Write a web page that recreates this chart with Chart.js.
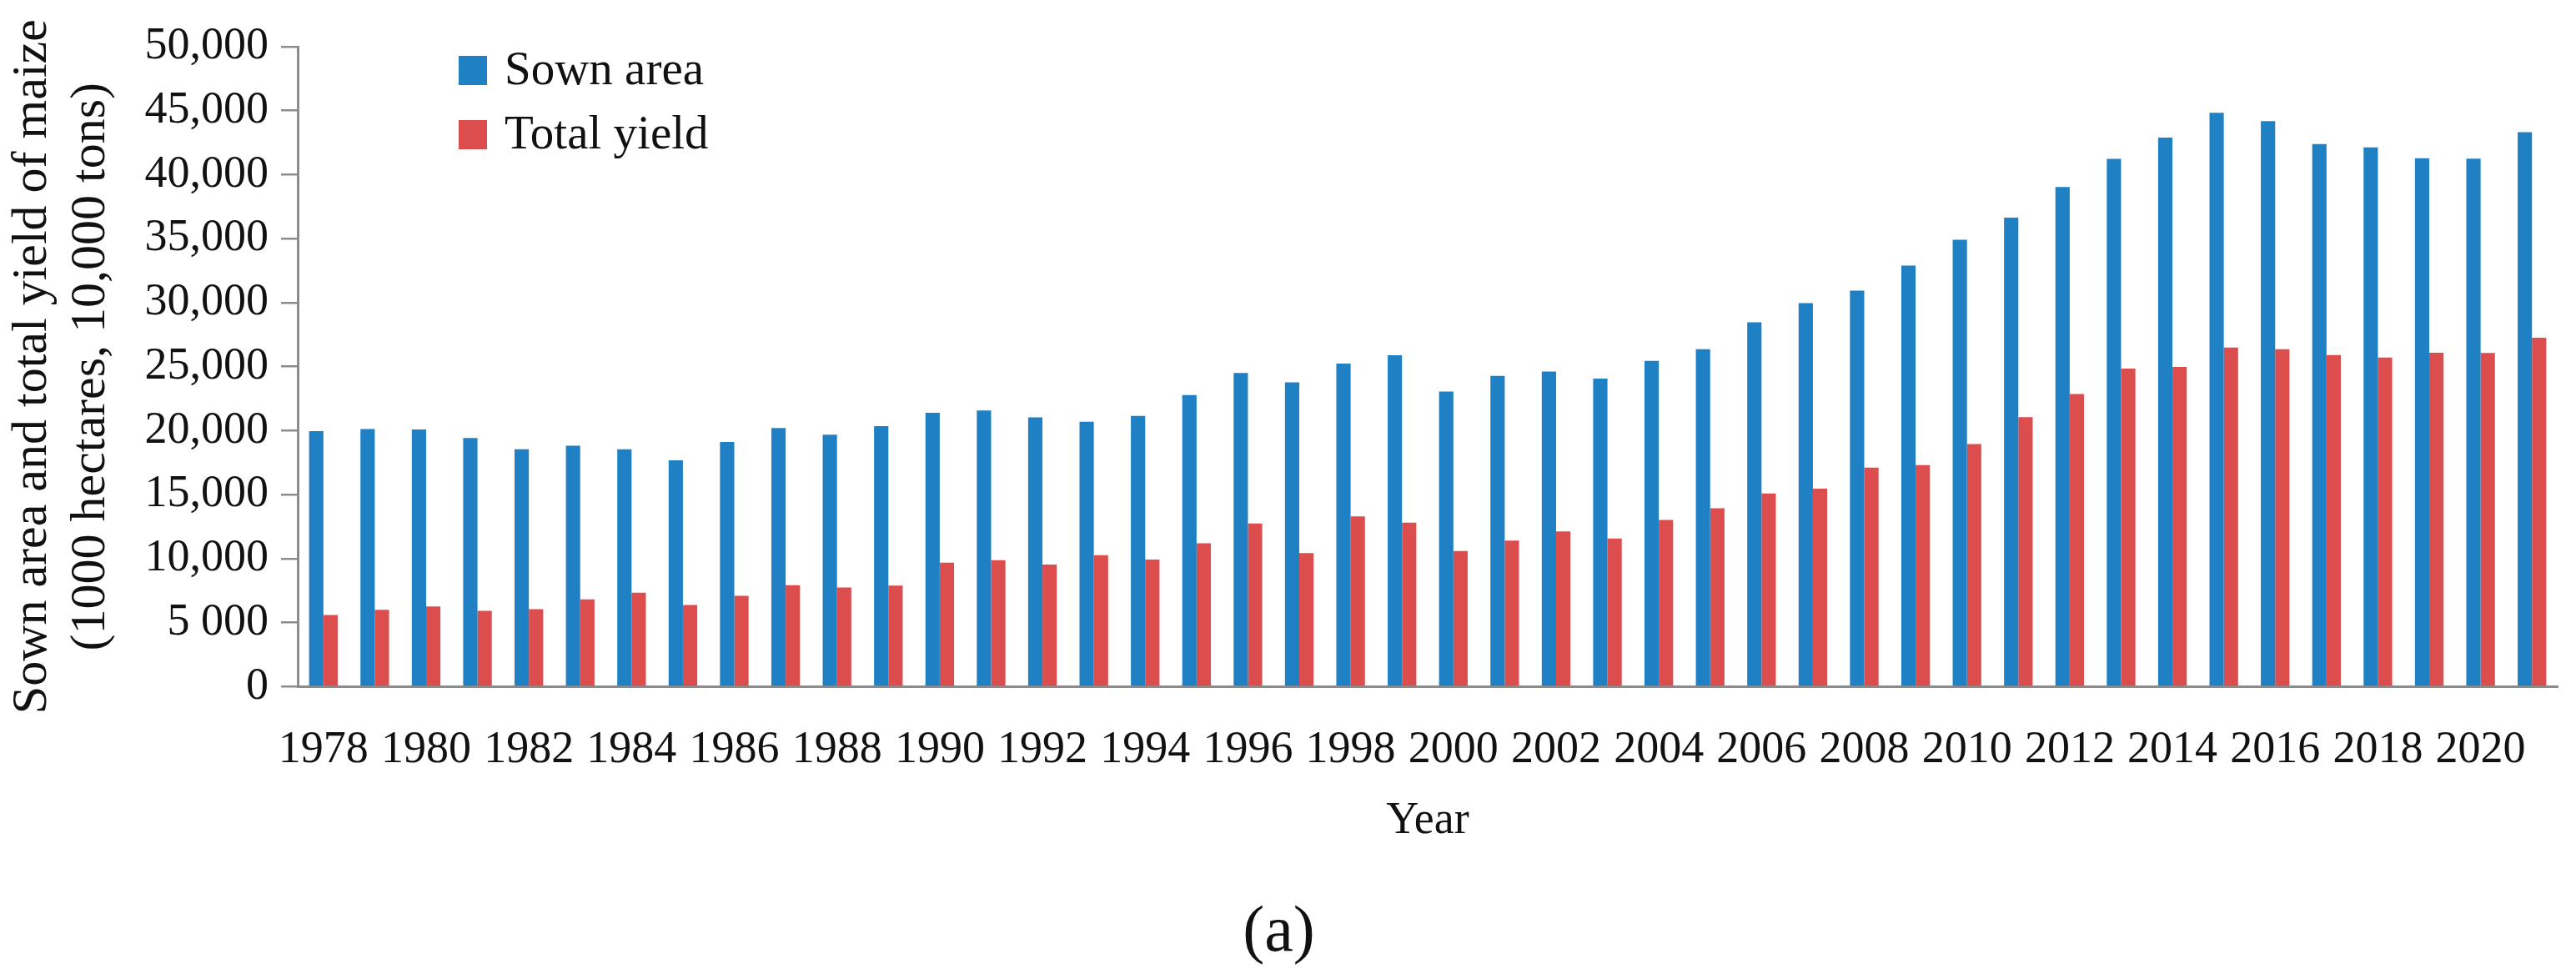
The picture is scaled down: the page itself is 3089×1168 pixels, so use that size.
<!DOCTYPE html>
<html>
<head>
<meta charset="utf-8">
<script src="https://cdn.jsdelivr.net/npm/chart.js@4.4.1/dist/chart.umd.min.js"></script>
<style>
  html, body { margin: 0; padding: 0; background: #fff; }
  #wrap { width: 3089px; height: 1168px; }
</style>
</head>
<body>
<div id="wrap"><canvas id="Chart-maize"></canvas></div>
<script>
// Data
var years = ["1978", "1979", "1980", "1981", "1982", "1983", "1984", "1985", "1986", "1987",
  "1988", "1989", "1990", "1991", "1992", "1993", "1994", "1995", "1996", "1997",
  "1998", "1999", "2000", "2001", "2002", "2003", "2004", "2005", "2006", "2007",
  "2008", "2009", "2010", "2011", "2012", "2013", "2014", "2015", "2016", "2017",
  "2018", "2019", "2020", "2021"];

// 1000 hectares
var sownArea = [19960, 20130, 20090, 19430, 18540, 18820, 18540, 17690, 19120, 20210,
  19690, 20350, 21400, 21570, 21040, 20690, 21150, 22780, 24500, 23780,
  25240, 25900, 23060, 24280, 24630, 24070, 25450, 26360, 28460, 29970,
  30940, 32890, 34910, 36640, 39030, 41240, 42890, 44840, 44180, 42400,
  42130, 41280, 41260, 43320];

// 10,000 tons
var totalYield = [5590, 6000, 6260, 5920, 6060, 6820, 7340, 6380, 7090, 7920,
  7740, 7890, 9680, 9880, 9540, 10270, 9930, 11200, 12750, 10430,
  13300, 12810, 10600, 11410, 12130, 11580, 13030, 13940, 15100, 15470,
  17120, 17310, 18960, 21050, 22860, 24850, 24980, 26500, 26360, 25910,
  25720, 26080, 26070, 27260];

var xTickLabels = ["1978", "1980", "1982", "1984", "1986", "1988", "1990", "1992", "1994", "1996",
  "1998", "2000", "2002", "2004", "2006", "2008", "2010", "2012", "2014", "2016",
  "2018", "2020"];

var yTickLabels = ["0", "5 000", "10,000", "15,000", "20,000", "25,000",
  "30,000", "35,000", "40,000", "45,000", "50,000"];

var serif = '"Liberation Serif", "Times New Roman", serif';
var axisGray = '#8c8c8c';

// legend drawn inside the plot, stacked
var boxLegend = {
  id: 'boxLegend',
  afterDraw: function (chart) {
    var ctx = chart.ctx;
    var area = chart.chartArea;
    var x = area.left + 193;
    var y = area.top + 11;
    ctx.save();
    ctx.font = '57px ' + serif;
    ctx.textBaseline = 'middle';
    ctx.textAlign = 'left';
    chart.data.datasets.forEach(function (ds, i) {
      var top = y + i * 77;
      ctx.fillStyle = ds.backgroundColor;
      ctx.fillRect(x, top, 34, 35);
      ctx.fillStyle = '#111';
      ctx.fillText(ds.label, x + 55, top + 19);
    });
    ctx.restore();
  }
};

var ctx = document.getElementById('Chart-maize').getContext('2d');
var chart = new Chart(ctx, {
  type: 'bar',
  data: {
    labels: years,
    datasets: [{
      label: "Sown area",
      backgroundColor: '#1f80c3',
      data: sownArea,
      categoryPercentage: 0.557,
      barPercentage: 1.0
    }, {
      label: "Total yield",
      backgroundColor: '#dc4d4d',
      data: totalYield,
      categoryPercentage: 0.557,
      barPercentage: 1.0
    }]
  },
  options: {
    responsive: true,
    maintainAspectRatio: false,
    devicePixelRatio: 1,
    animation: false,
    layout: {
      padding: { left: 0, right: 22, top: 56, bottom: 0 }
    },
    plugins: {
      legend: { display: false },
      tooltip: { enabled: false },
      title: {
        display: true,
        position: 'bottom',
        text: '(a)',
        color: '#111',
        font: { family: serif, size: 78, weight: 'normal' },
        padding: { top: 55, bottom: 2 }
      }
    },
    scales: {
      x: {
        grid: { display: false, drawTicks: false },
        border: { display: true, color: axisGray, width: 3 },
        ticks: {
          autoSkip: false,
          maxRotation: 0,
          minRotation: 0,
          padding: 44,
          color: '#111',
          font: { family: serif, size: 54 },
          callback: function (value, index) {
            var y = years[index];
            return xTickLabels.indexOf(y) >= 0 ? y : '';
          }
        },
        title: {
          display: true,
          text: 'Year',
          color: '#111',
          font: { family: serif, size: 54 },
          padding: { top: 25, bottom: 0 }
        },
        afterFit: function (scale) {
          scale.height = 194;
        }
      },
      y: {
        min: 0,
        max: 50000,
        grid: {
          drawOnChartArea: false,
          drawTicks: true,
          tickLength: 20,
          color: axisGray,
          lineWidth: 2.5
        },
        border: { display: true, color: axisGray, width: 3 },
        ticks: {
          stepSize: 5000,
          padding: 15,
          color: '#111',
          font: { family: serif, size: 54 },
          callback: function (value, index) {
            return yTickLabels[index];
          }
        },
        title: {
          display: true,
          text: ["Sown area and total yield of maize", "(1000 hectares, 10,000 tons)"],
          color: '#111',
          font: { family: serif, size: 60, lineHeight: 1.17 },
          padding: { top: 4, bottom: 10 }
        },
        afterFit: function (scale) {
          scale.width = 357;
        }
      }
    }
  },
  plugins: [boxLegend]
});
</script>
</body>
</html>
